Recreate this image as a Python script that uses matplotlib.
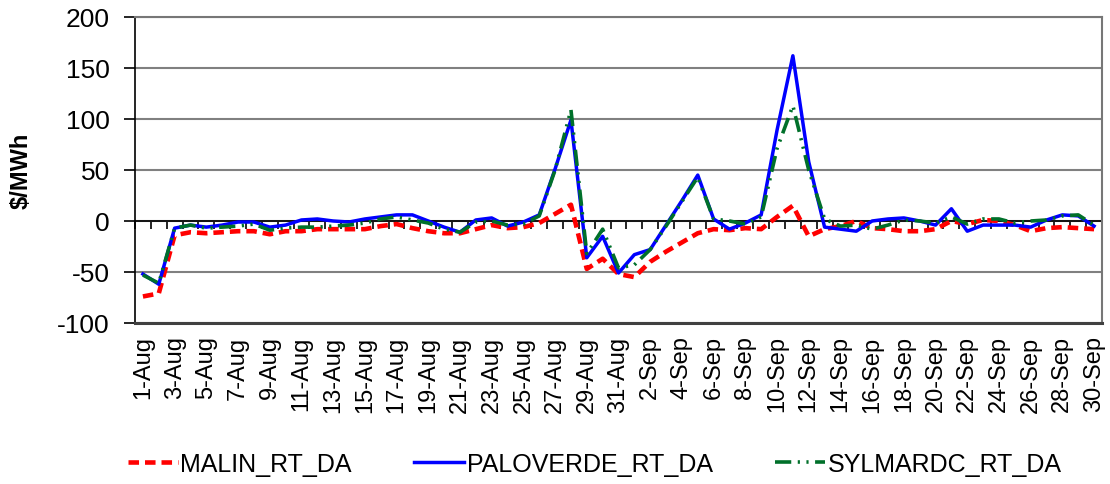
import numpy as np
import pandas as pd
import matplotlib
matplotlib.use("Agg")
import matplotlib.pyplot as plt

plt.rcParams["font.family"] = ["Liberation Sans", "DejaVu Sans"]
plt.rcParams["axes.unicode_minus"] = False

dates = pd.date_range("2008-08-01", "2008-09-30", freq="D")
labels = [f"{d.day}-{d:%b}" for d in dates]

malin = [-74, -71, -14, -11, -12, -11, -10, -10, -13, -10, -10, -8, -8, -8, -8, -5, -3, -7, -10, -12,
         -12, -8, -4, -7, -6, -2, 7, 16, -47, -37, -52, -55, -40, -30, -21, -12, -8, -9, -7, -8,
         4, 15, -15, -8, -5, 0, -7, -8, -10, -10, -8, 0, -3, 1, 0, -4, -10, -7, -6, -7, -8]
paloverde = [-52, -62, -7, -4, -6, -4, -1, -1, -6, -4, 1, 2, 0, -1, 2, 4, 6, 6, 0, -6,
             -11, 1, 3, -5, -1, 6, 51, 99, -36, -15, -51, -33, -28, -4, 20, 45, 2, -8, -2, 6,
             89, 162, 58, -6, -8, -10, 0, 2, 3, 0, -4, 12, -10, -4, -4, -4, -6, 1, 6, 5, -5]
sylmardc = [-53, -61, -7, -4, -7, -6, -5, -3, -9, -7, -6, -6, -5, -4, -2, 2, 4, 1, -2, -8,
            -11, -1, 0, -4, -3, 5, 50, 109, -32, -8, -46, -43, -28, -5, 19, 43, 2, 0, -3, 4,
            71, 113, 50, 2, -5, -4, -8, -4, 1, 0, -2, 4, -3, 2, 2, -2, 0, 1, 5, 6, -4]

x = np.arange(len(labels))

fig = plt.figure(figsize=(11.1, 4.85), dpi=100)
ax = fig.add_axes([135 / 1110, 1 - 324 / 485, 967 / 1110, 306 / 485])

# gridlines
ax.set_ylim(-100, 200)
ax.set_yticks(np.arange(-100, 201, 50))
ax.grid(axis="y", color="#808080", lw=1.5)
ax.set_axisbelow(True)

ax.plot(x, malin, color="#ff0000", lw=3.3, dashes=(2.3, 1.3), label="MALIN_RT_DA")
ax.plot(x, paloverde, color="#0000ff", lw=2.5, label="PALOVERDE_RT_DA")
ax.plot(x, sylmardc, color="#00702a", lw=2.6, dashes=(4.5, 1.8, 0.6, 1.8, 0.6, 1.8),
        label="SYLMARDC_RT_DA")

ax.axhline(0, color="black", lw=1.2, zorder=1.5)

ax.set_xlim(-0.5, len(labels) - 0.5)
ax.set_xticks(x[::2])
ax.set_xticklabels(labels[::2], rotation=90, fontsize=17)
ax.tick_params(axis="x", length=0, pad=9)
ax.tick_params(axis="y", labelsize=19, length=8, width=1.2, pad=10)

# category ticks on the zero line
sec = ax.secondary_xaxis(1 / 3)
sec.set_xticks(np.arange(-0.5, len(labels), 1.0))
sec.tick_params(length=6, width=1.2, labelbottom=False, direction="out")
sec.spines["bottom"].set_visible(False)

for s in ["top", "right"]:
    ax.spines[s].set_color("#777777")
    ax.spines[s].set_linewidth(1.5)
ax.spines["left"].set_color("black")
ax.spines["left"].set_linewidth(1.2)
ax.spines["bottom"].set_color("#404040")
ax.spines["bottom"].set_linewidth(2.2)

ax.set_ylabel("$/MWh", fontsize=17, fontweight="bold")
ax.yaxis.set_label_coords(-0.106, 0.5)

fig.legend(loc="center", bbox_to_anchor=(0.536, 0.041), ncol=3, frameon=False,
           fontsize=18, handlelength=2.0, columnspacing=2.5, handletextpad=0.1)

fig.savefig("out.png", dpi=100)
